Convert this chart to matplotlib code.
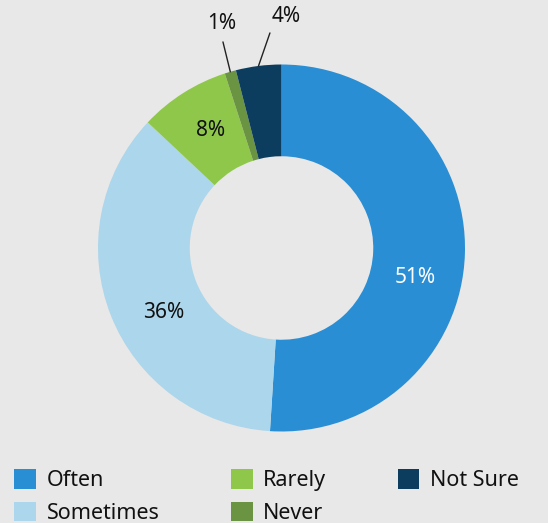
import matplotlib.pyplot as plt
import numpy as np

# chart data
categories = ['Often', 'Sometimes', 'Rarely', 'Never', 'Not Sure']
values = [51, 36, 8, 1, 4]
colors = ['#2a8ed4', '#acd6eb', '#8fc74b', '#6a9442', '#0d3d5e']
label_colors = ['white', '#111111', '#111111', '#111111', '#111111']

plt.rcParams['font.family'] = ['Noto Sans', 'DejaVu Sans']
bg = '#e8e8e8'

fig = plt.figure(figsize=(5.48, 5.23), dpi=100, facecolor=bg)
ax = fig.add_axes([98 / 548, 91.5 / 523, 367 / 548, 367 / 523])
ax.set_facecolor(bg)

wedges, _ = ax.pie(values, colors=colors, startangle=90, counterclock=False,
                   radius=1, wedgeprops=dict(width=0.5, linewidth=0))
ax.set_xlim(-1, 1)
ax.set_ylim(-1, 1)
ax.set_aspect('equal')
ax.axis('off')

# label placement (angle in degrees, radius) for the inside labels
inside_pos = {0: (-12.3, 0.745), 1: (208.8, 0.73), 2: (121.2, 0.75)}
for i, (ang, r) in inside_pos.items():
    a = np.deg2rad(ang)
    ax.text(r * np.cos(a), r * np.sin(a), f'{values[i]}%', ha='center', va='center',
            fontsize=15, color=label_colors[i])

# outside labels with leader lines for the thin slices
outside = {3: ((-0.324, 1.225), (-0.319, 1.123)), 4: ((0.025, 1.262), (-0.063, 1.172))}
cum = np.cumsum([0] + values)
for i, (txt_xy, line_start) in outside.items():
    mid = 90 - (cum[i] + values[i] / 2) / 100 * 360
    a = np.deg2rad(mid)
    edge = (np.cos(a), np.sin(a))
    ax.annotate('', xy=edge, xytext=line_start,
                arrowprops=dict(arrowstyle='-', color='#222222', lw=1,
                                shrinkA=0, shrinkB=0),
                annotation_clip=False)
    ax.text(txt_xy[0], txt_xy[1], f'{values[i]}%', ha='center', va='center',
            fontsize=15, color='#111111', clip_on=False)

leg = fig.legend(wedges, categories, ncol=3, loc='upper left',
                 bbox_to_anchor=(14 / 548, 1 - 469 / 523), frameon=False,
                 fontsize=15.5, handlelength=1.02, handleheight=1.02,
                 handletextpad=0.5, columnspacing=3.3, labelspacing=0.5,
                 borderpad=0, borderaxespad=0)
for t in leg.get_texts():
    t.set_color('#111111')

fig.savefig('out.png', dpi=100, facecolor=bg)
